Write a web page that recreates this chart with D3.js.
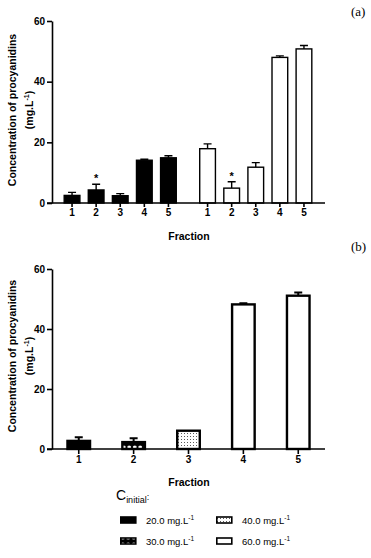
<!DOCTYPE html>
<html>
<head>
<meta charset="utf-8">
<script src="https://cdn.jsdelivr.net/npm/d3@7"></script>
<style>
  body { margin: 0; background: #fff; }
  svg { display: block; font-family: "Liberation Sans", Arial, sans-serif; }
</style>
</head>
<body>
<svg id="chart" width="371" height="558"></svg>
<script>
// data
const fractions = ["1", "2", "3", "4", "5"]
const yTicks = [0, 20, 40, 60]

// panel (a): 20 mg/L (black) and 60 mg/L (white)
const a20 = [2.5, 4.3, 2.4, 14.1, 14.9]
const a20Err = [1.0, 1.9, 0.7, 0.3, 0.7]
const a20Star = [false, true, false, false, false]
const a60 = [17.9, 4.9, 11.8, 48.0, 50.8]
const a60Err = [1.6, 2.1, 1.5, 0.5, 1.1]
const a60Star = [false, true, false, false, false]

// panel (b): one bar per fraction, each from a different initial concentration
const bValues = [2.7, 2.3, 6.1, 48.2, 51.1]
const bErr = [1.2, 1.3, 0, 0.4, 1.1]
const bConc = ["c20", "c30", "c40", "c60", "c60"]

const legendKeys = ["c20", "c30", "c40", "c60"]
const legendLabels = ["20.0", "30.0", "40.0", "60.0"]

const svg = d3.select("#chart")
const BOLD = "bold"

// patterns
const defs = svg.append("defs")
const p30 = defs.append("pattern").attr("id", "p30").attr("patternUnits", "userSpaceOnUse")
    .attr("width", 5.5).attr("height", 6)
p30.append("rect").attr("width", 5.5).attr("height", 6).attr("fill", "#000")
p30.append("ellipse").attr("cx", 2.75).attr("cy", 3).attr("rx", 1.9).attr("ry", 1.5).attr("fill", "#fff")
const p40 = defs.append("pattern").attr("id", "p40").attr("patternUnits", "userSpaceOnUse")
    .attr("width", 3).attr("height", 3)
p40.append("rect").attr("width", 3).attr("height", 3).attr("fill", "#fff")
p40.append("rect").attr("x", 1).attr("y", 1).attr("width", 0.9).attr("height", 0.9).attr("fill", "#333")

const fillFor = { c20: "#000", c30: "url(#p30)", c40: "url(#p40)", c60: "#fff" }

function yLabel(g, cy) {
    const t = g.append("text")
        .attr("transform", `translate(16, ${cy}) rotate(-90)`)
        .attr("text-anchor", "middle")
        .style("font-size", "10.5px").style("font-weight", BOLD)
    t.append("tspan").attr("x", 0).attr("y", 0).text("Concentration of procyanidins")
    const t2 = t.append("tspan").attr("x", 0).attr("dy", 17).text("(mg.L")
    t2.append("tspan").attr("dy", -4).style("font-size", "7px").text("-1")
    t.append("tspan").attr("dy", 4).text(")")
}

function yAxis(g, y) {
    const ax = g.append("g")
        .attr("transform", "translate(52,0)")
        .call(d3.axisLeft(y).tickValues(yTicks).tickSize(5).tickSizeOuter(0).tickPadding(2))
    ax.select(".domain").attr("stroke-width", 1.6)
    ax.selectAll(".tick line").attr("stroke-width", 1.6)
    ax.selectAll("text").style("font-size", "10px").style("font-weight", BOLD).attr("fill", "#000")
}

function errorBars(g, data, x, y, sw) {
    g.selectAll(null).data(data.filter(d => d.err > 0)).join("path")
        .attr("d", d => {
            const cx = x(d) , top = y(d.v + d.err), base = y(d.v)
            return `M${cx},${base}V${top}M${cx - 4},${top}H${cx + 4}`
        })
        .attr("stroke", "#000").attr("stroke-width", sw).attr("fill", "none")
}

// ---------- panel (a) ----------
const ya = d3.scaleLinear().domain([0, 60]).range([203, 21])
const groups = ["g20", "g60"]
const outer = d3.scaleBand().domain(groups).range([52, 324]).paddingInner(0.111).paddingOuter(0.059)
const inner = d3.scaleBand().domain(fractions).range([0, outer.bandwidth()]).paddingInner(0.29).paddingOuter(0.145)

const pa = svg.append("g")
const aData = []
fractions.forEach((f, i) => {
    aData.push({ g: "g20", f, v: a20[i], err: a20Err[i], star: a20Star[i] })
    aData.push({ g: "g60", f, v: a60[i], err: a60Err[i], star: a60Star[i] })
})
const xa = d => outer(d.g) + inner(d.f) + inner.bandwidth() / 2

errorBars(pa, aData, xa, ya, 1.4)
pa.selectAll(".bar").data(aData).join("rect")
    .attr("x", d => outer(d.g) + inner(d.f) + 0.7)
    .attr("width", inner.bandwidth() - 1.4)
    .attr("y", d => ya(d.v))
    .attr("height", d => ya(0) - ya(d.v))
    .attr("fill", d => d.g === "g20" ? "#000" : "#fff")
    .attr("stroke", "#000").attr("stroke-width", 1.4)
pa.selectAll(".star").data(aData.filter(d => d.star)).join("text")
    .attr("x", xa).attr("y", d => ya(d.v + d.err) - 2)
    .attr("text-anchor", "middle")
    .style("font-size", "11px").style("font-weight", BOLD).text("*")

groups.forEach(gr => {
    const ax = pa.append("g")
        .attr("transform", `translate(${outer(gr)},203)`)
        .call(d3.axisBottom(inner).tickSize(4).tickSizeOuter(0).tickPadding(2))
    ax.select(".domain").remove()
    ax.selectAll(".tick line").attr("stroke-width", 1.6)
    ax.selectAll("text").style("font-size", "10px").style("font-weight", BOLD).attr("fill", "#000")
})
pa.append("line").attr("x1", 47).attr("x2", 325).attr("y1", 203).attr("y2", 203)
    .attr("stroke", "#000").attr("stroke-width", 1.6)
yAxis(pa, ya)
yLabel(pa, 110)
pa.append("text").attr("x", 189).attr("y", 240).attr("text-anchor", "middle")
    .style("font-size", "10.5px").style("font-weight", BOLD).text("Fraction")
pa.append("text").attr("x", 351).attr("y", 16)
    .style("font-family", "'Liberation Serif', 'Times New Roman', serif").style("font-size", "13px").text("(a)")

// ---------- panel (b) ----------
const yb = d3.scaleLinear().domain([0, 60]).range([449, 269])
const xb = d3.scaleBand().domain(fractions).range([52, 325]).paddingInner(0.545).paddingOuter(0.26)
const pb = svg.append("g")
const bData = fractions.map((f, i) => ({ f, v: bValues[i], err: bErr[i], c: bConc[i] }))
const xbc = d => xb(d.f) + xb.bandwidth() / 2

errorBars(pb, bData, xbc, yb, 2)
pb.selectAll(".bar").data(bData).join("rect")
    .attr("x", d => xb(d.f) + 1.2)
    .attr("width", xb.bandwidth() - 2.4)
    .attr("y", d => yb(d.v))
    .attr("height", d => yb(0) - yb(d.v))
    .attr("fill", d => fillFor[d.c])
    .attr("stroke", "#000").attr("stroke-width", 2.4)

const axb = pb.append("g")
    .attr("transform", "translate(0,449)")
    .call(d3.axisBottom(xb).tickSize(5).tickSizeOuter(0).tickPadding(2))
axb.select(".domain").remove()
axb.selectAll(".tick line").attr("stroke-width", 1.6)
axb.selectAll("text").style("font-size", "10px").style("font-weight", BOLD).attr("fill", "#000")
pb.append("line").attr("x1", 47).attr("x2", 325).attr("y1", 449).attr("y2", 449)
    .attr("stroke", "#000").attr("stroke-width", 1.6)
yAxis(pb, yb)
yLabel(pb, 356)
pb.append("text").attr("x", 189).attr("y", 486).attr("text-anchor", "middle")
    .style("font-size", "10.5px").style("font-weight", BOLD).text("Fraction")
pb.append("text").attr("x", 351).attr("y", 251)
    .style("font-family", "'Liberation Serif', 'Times New Roman', serif").style("font-size", "13px").text("(b)")

// ---------- legend ----------
const lg = svg.append("g")
const title = lg.append("text").attr("x", 116).attr("y", 500)
title.append("tspan").style("font-size", "14px").text("C")
title.append("tspan").attr("dy", 3).style("font-size", "9px").text("initial")
title.append("tspan").attr("dy", -3).style("font-size", "9px").text(":")

const lx = d3.scalePoint().domain([0, 1]).range([120, 216])
const ly = d3.scalePoint().domain([0, 1]).range([520, 541])
const items = legendKeys.map((k, i) => ({ k, label: legendLabels[i], col: Math.floor(i / 2), row: i % 2 }))
const it = lg.selectAll(".item").data(items).join("g")
    .attr("transform", d => `translate(${lx(d.col)},${ly(d.row)})`)
it.append("rect").attr("x", 0.8).attr("y", -3).attr("width", 15).attr("height", 6)
    .attr("fill", d => fillFor[d.k]).attr("stroke", "#000").attr("stroke-width", 1.6)
const lt = it.append("text").attr("x", 26).attr("y", 3.5).style("font-size", "9.5px")
lt.append("tspan").text(d => d.label + " mg.L")
lt.append("tspan").attr("dy", -4).style("font-size", "6.5px").text("-1")
</script>
</body>
</html>
